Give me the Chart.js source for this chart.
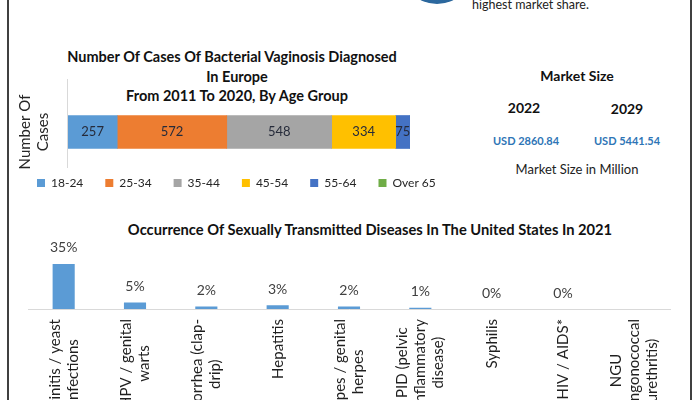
<!DOCTYPE html>
<html>
<head>
<meta charset="utf-8">
<script src="https://cdn.jsdelivr.net/npm/chart.js@4.4.1/dist/chart.umd.min.js"></script>
<style>
  body { margin: 0; background: #fff; width: 698px; height: 400px; overflow: hidden; position: relative; font-family: Lato, sans-serif; }
  .abs { position: absolute; white-space: nowrap; }
  .frame { position: absolute; top: 0; bottom: 0; width: 1.5px; background: #404040; }
  .ctr { transform: translate(-50%, -50%); text-align: center; }
  #casesChart { position: absolute; left: 0; top: 40px; }
  #stdChart { position: absolute; left: 0; top: 215px; }
</style>
</head>
<body>
<div class="frame" style="left:7px"></div>
<div class="frame" style="left:690px"></div>
<div class="abs" style="left:401px;top:-68px;width:72px;height:72px;border-radius:50%;background:radial-gradient(circle at 50% 80%, #2f6ea6, #1d4f7e);"></div>
<div class="abs" style="left:472px;top:-3px;font-size:12.5px;color:#222;">highest market share.</div>

<div class="abs ctr" style="left:232px;top:56px;font-size:14.5px;font-weight:bold;color:#111;">Number Of Cases Of Bacterial Vaginosis Diagnosed</div>
<div class="abs ctr" style="left:237px;top:76px;font-size:14.5px;font-weight:bold;color:#111;">In Europe</div>
<div class="abs ctr" style="left:237px;top:95px;font-size:14.5px;font-weight:bold;color:#111;">From 2011 To 2020, By Age Group</div>

<div class="abs ctr" style="left:577px;top:75px;font-size:14px;font-weight:bold;color:#111;">Market Size</div>
<div class="abs ctr" style="left:524px;top:107px;font-size:14px;font-weight:bold;color:#111;">2022</div>
<div class="abs ctr" style="left:627px;top:108px;font-size:14px;font-weight:bold;color:#111;">2029</div>
<div class="abs ctr" style="left:526px;top:140px;font-size:11px;font-weight:bold;color:#2e75b6;">USD 2860.84</div>
<div class="abs ctr" style="left:627px;top:140px;font-size:11px;font-weight:bold;color:#2e75b6;">USD 5441.54</div>
<div class="abs ctr" style="left:577px;top:169px;font-size:13px;color:#222;">Market Size in Million</div>

<div class="abs ctr" style="left:370px;top:229px;font-size:14.7px;font-weight:bold;color:#111;">Occurrence Of Sexually Transmitted Diseases In The United States In 2021</div>

<canvas id="casesChart" width="470" height="160"></canvas>
<canvas id="stdChart" width="698" height="185"></canvas>

<script>
// bacterial vaginosis cases in Europe, 2011-2020
const ageGroups = ['18-24', '25-34', '35-44', '45-54', '55-64', 'Over 65'];
const caseCounts = [257, 572, 548, 334, 75, 0];
const ageColors = ['#5b9bd5', '#ed7d31', '#a5a5a5', '#ffc000', '#4472c4', '#70ad47'];

// STD occurrence in the US, 2021 (percent)
const stdCategories = [
  ['Vaginitis / yeast', 'infections'],
  ['HPV / genital', 'warts'],
  ['Gonorrhea (clap-', 'drip)'],
  ['Hepatitis'],
  ['Herpes / genital', 'herpes'],
  ['PID (pelvic', 'inflammatory', 'disease)'],
  ['Syphilis'],
  ['HIV / AIDS*'],
  ['NGU', '(nongonococcal', 'urethritis)']
];
const stdShares = [35, 5, 2, 3, 2, 1, 0, 0, null];

Chart.defaults.font.family = 'Lato, sans-serif';
Chart.defaults.color = '#262626';

const totalCases = caseCounts.reduce((a, b) => a + b, 0);

const segmentLabels = {
  id: 'segmentLabels',
  afterDatasetsDraw(chart) {
    const ctx = chart.ctx;
    ctx.save();
    ctx.font = '13px Lato';
    ctx.fillStyle = '#262b3a';
    ctx.textAlign = 'center';
    ctx.textBaseline = 'middle';
    chart.data.datasets.forEach((ds, i) => {
      const v = ds.data[0];
      if (!v) return;
      const el = chart.getDatasetMeta(i).data[0];
      const p = el.getCenterPoint();
      ctx.fillText(String(v), p.x, p.y);
    });
    ctx.restore();
  }
};

const leftLine = {
  id: 'leftLine',
  beforeDatasetsDraw(chart) {
    const ctx = chart.ctx;
    ctx.save();
    ctx.strokeStyle = '#d9d9d9';
    ctx.lineWidth = 1;
    ctx.beginPath();
    ctx.moveTo(chart.chartArea.left - 0.5, 39);
    ctx.lineTo(chart.chartArea.left - 0.5, 128);
    ctx.stroke();
    ctx.restore();
  }
};

new Chart(document.getElementById('casesChart'), {
  type: 'bar',
  data: {
    labels: ['Number Of Cases'],
    datasets: ageGroups.map((g, i) => ({
      label: g,
      data: [caseCounts[i]],
      backgroundColor: ageColors[i],
      barThickness: 33
    }))
  },
  options: {
    indexAxis: 'y',
    responsive: false,
    animation: false,
    devicePixelRatio: 1,
    layout: { padding: { left: 15, top: 69, right: 0, bottom: 1 } },
    scales: {
      x: { stacked: true, display: false, min: 0, max: totalCases },
      y: {
        stacked: true,
        grid: { display: false },
        border: { display: false },
        ticks: { display: false },
        title: {
          display: true,
          text: ['Number Of', 'Cases'],
          font: { size: 15, lineHeight: 1.2 },
          color: '#262626',
          padding: { top: 1, bottom: 0 }
        },
        afterFit: s => { s.width = 53; }
      },
      y2: {
        position: 'right',
        display: true,
        grid: { display: false },
        border: { display: false },
        ticks: { display: false },
        afterFit: s => { s.width = 60; }
      }
    },
    plugins: {
      legend: {
        position: 'bottom',
        align: 'start',
        labels: { boxWidth: 8, boxHeight: 8, padding: 22, font: { size: 12 }, color: '#262626' }
      },
      tooltip: { enabled: false }
    }
  },
  plugins: [segmentLabels, leftLine]
});

const stdLabels = {
  id: 'stdLabels',
  afterDraw(chart) {
    const ctx = chart.ctx;
    const meta = chart.getDatasetMeta(0);
    const xs = chart.scales.x;
    ctx.save();
    ctx.fillStyle = '#404040';
    ctx.font = '14px Lato';
    ctx.textAlign = 'center';
    ctx.textBaseline = 'middle';
    stdShares.forEach((v, i) => {
      if (v === null) return;
      const el = meta.data[i];
      ctx.fillText(v + '%', el.x, el.y - 16);
    });
    ctx.font = '15px Lato';
    ctx.fillStyle = '#1f1f1f';
    const lh = 18;
    stdCategories.forEach((lines, i) => {
      const cx = xs.getPixelForValue(i);
      const maxW = Math.max(...lines.map(l => ctx.measureText(l).width));
      ctx.save();
      ctx.translate(cx, chart.chartArea.bottom + 10);
      ctx.rotate(-Math.PI / 2);
      lines.forEach((l, j) => {
        ctx.fillText(l, -maxW / 2, (j - (lines.length - 1) / 2) * lh);
      });
      ctx.restore();
    });
    ctx.restore();
  }
};

new Chart(document.getElementById('stdChart'), {
  type: 'bar',
  data: {
    labels: stdCategories,
    datasets: [{
      data: stdShares,
      backgroundColor: '#5b9bd5',
      barPercentage: 0.31,
      categoryPercentage: 1
    }]
  },
  options: {
    responsive: false,
    animation: false,
    devicePixelRatio: 1,
    layout: { padding: { left: 28, right: 28, top: 29.6, bottom: 0 } },
    scales: {
      x: {
        grid: { display: false },
        border: { color: '#d9d9d9', width: 1 },
        ticks: { display: false },
        afterFit: s => { s.height = 91; }
      },
      y: { display: false, min: 0, max: 50 }
    },
    plugins: {
      legend: { display: false },
      tooltip: { enabled: false }
    }
  },
  plugins: [stdLabels]
});
</script>
</body>
</html>
